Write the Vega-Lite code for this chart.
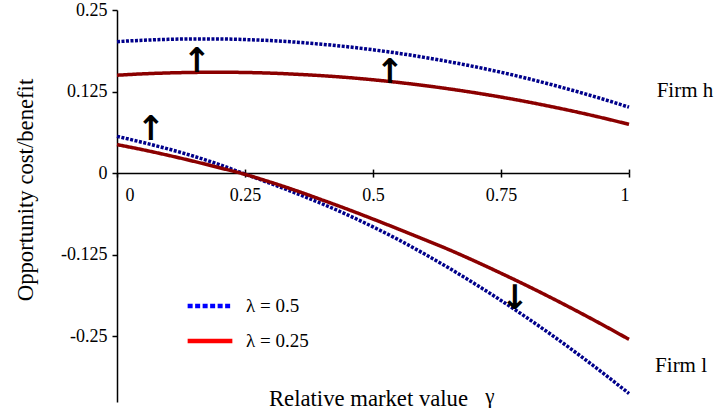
{
  "$schema": "https://vega.github.io/schema/vega-lite/v6.json",
  "width": 512,
  "height": 392,
  "autosize": "none",
  "padding": {"left": 117, "top": 10, "right": 85, "bottom": 11},
  "background": "white",
  "config": {
    "view": {"stroke": null},
    "font": "Liberation Serif",
    "style": {"guide-label": {"font": "Liberation Serif"}, "guide-title": {"font": "Liberation Serif"}},
    "axis": {"grid": false, "domainColor": "black", "tickColor": "black", "labelColor": "black", "titleColor": "black", "labelFont": "Liberation Serif", "titleFont": "Liberation Serif", "titleFontWeight": "normal", "domainWidth": 1.5, "tickWidth": 1.5},
    "legend": {"labelFont": "Liberation Serif"}
  },
  "datasets": {
    "curves": [
      {"x": 0, "y": 0.2015, "lam": "λ = 0.5", "firm": "h"},
      {"x": 0.05, "y": 0.2036, "lam": "λ = 0.5", "firm": "h"},
      {"x": 0.1, "y": 0.2050, "lam": "λ = 0.5", "firm": "h"},
      {"x": 0.15, "y": 0.2057, "lam": "λ = 0.5", "firm": "h"},
      {"x": 0.2, "y": 0.2056, "lam": "λ = 0.5", "firm": "h"},
      {"x": 0.25, "y": 0.2047, "lam": "λ = 0.5", "firm": "h"},
      {"x": 0.3, "y": 0.2031, "lam": "λ = 0.5", "firm": "h"},
      {"x": 0.35, "y": 0.2007, "lam": "λ = 0.5", "firm": "h"},
      {"x": 0.4, "y": 0.1975, "lam": "λ = 0.5", "firm": "h"},
      {"x": 0.45, "y": 0.1937, "lam": "λ = 0.5", "firm": "h"},
      {"x": 0.5, "y": 0.1890, "lam": "λ = 0.5", "firm": "h"},
      {"x": 0.55, "y": 0.1836, "lam": "λ = 0.5", "firm": "h"},
      {"x": 0.6, "y": 0.1774, "lam": "λ = 0.5", "firm": "h"},
      {"x": 0.65, "y": 0.1705, "lam": "λ = 0.5", "firm": "h"},
      {"x": 0.7, "y": 0.1629, "lam": "λ = 0.5", "firm": "h"},
      {"x": 0.75, "y": 0.1545, "lam": "λ = 0.5", "firm": "h"},
      {"x": 0.8, "y": 0.1453, "lam": "λ = 0.5", "firm": "h"},
      {"x": 0.85, "y": 0.1353, "lam": "λ = 0.5", "firm": "h"},
      {"x": 0.9, "y": 0.1246, "lam": "λ = 0.5", "firm": "h"},
      {"x": 0.95, "y": 0.1132, "lam": "λ = 0.5", "firm": "h"},
      {"x": 1, "y": 0.1010, "lam": "λ = 0.5", "firm": "h"},
      {"x": 0, "y": 0.1500, "lam": "λ = 0.25", "firm": "h"},
      {"x": 0.05, "y": 0.1521, "lam": "λ = 0.25", "firm": "h"},
      {"x": 0.1, "y": 0.1535, "lam": "λ = 0.25", "firm": "h"},
      {"x": 0.15, "y": 0.1543, "lam": "λ = 0.25", "firm": "h"},
      {"x": 0.2, "y": 0.1546, "lam": "λ = 0.25", "firm": "h"},
      {"x": 0.25, "y": 0.1542, "lam": "λ = 0.25", "firm": "h"},
      {"x": 0.3, "y": 0.1532, "lam": "λ = 0.25", "firm": "h"},
      {"x": 0.35, "y": 0.1515, "lam": "λ = 0.25", "firm": "h"},
      {"x": 0.4, "y": 0.1493, "lam": "λ = 0.25", "firm": "h"},
      {"x": 0.45, "y": 0.1465, "lam": "λ = 0.25", "firm": "h"},
      {"x": 0.5, "y": 0.1430, "lam": "λ = 0.25", "firm": "h"},
      {"x": 0.55, "y": 0.1389, "lam": "λ = 0.25", "firm": "h"},
      {"x": 0.6, "y": 0.1342, "lam": "λ = 0.25", "firm": "h"},
      {"x": 0.65, "y": 0.1289, "lam": "λ = 0.25", "firm": "h"},
      {"x": 0.7, "y": 0.1230, "lam": "λ = 0.25", "firm": "h"},
      {"x": 0.75, "y": 0.1165, "lam": "λ = 0.25", "firm": "h"},
      {"x": 0.8, "y": 0.1094, "lam": "λ = 0.25", "firm": "h"},
      {"x": 0.85, "y": 0.1016, "lam": "λ = 0.25", "firm": "h"},
      {"x": 0.9, "y": 0.0933, "lam": "λ = 0.25", "firm": "h"},
      {"x": 0.95, "y": 0.0843, "lam": "λ = 0.25", "firm": "h"},
      {"x": 1, "y": 0.0747, "lam": "λ = 0.25", "firm": "h"},
      {"x": 0, "y": 0.0563, "lam": "λ = 0.5", "firm": "l"},
      {"x": 0.05, "y": 0.0470, "lam": "λ = 0.5", "firm": "l"},
      {"x": 0.1, "y": 0.0370, "lam": "λ = 0.5", "firm": "l"},
      {"x": 0.15, "y": 0.0258, "lam": "λ = 0.5", "firm": "l"},
      {"x": 0.2, "y": 0.0130, "lam": "λ = 0.5", "firm": "l"},
      {"x": 0.25, "y": -0.0015, "lam": "λ = 0.5", "firm": "l"},
      {"x": 0.3, "y": -0.0160, "lam": "λ = 0.5", "firm": "l"},
      {"x": 0.35, "y": -0.0310, "lam": "λ = 0.5", "firm": "l"},
      {"x": 0.4, "y": -0.0470, "lam": "λ = 0.5", "firm": "l"},
      {"x": 0.45, "y": -0.0640, "lam": "λ = 0.5", "firm": "l"},
      {"x": 0.5, "y": -0.0825, "lam": "λ = 0.5", "firm": "l"},
      {"x": 0.55, "y": -0.1023, "lam": "λ = 0.5", "firm": "l"},
      {"x": 0.6, "y": -0.1238, "lam": "λ = 0.5", "firm": "l"},
      {"x": 0.65, "y": -0.1464, "lam": "λ = 0.5", "firm": "l"},
      {"x": 0.7, "y": -0.1703, "lam": "λ = 0.5", "firm": "l"},
      {"x": 0.75, "y": -0.1953, "lam": "λ = 0.5", "firm": "l"},
      {"x": 0.8, "y": -0.2215, "lam": "λ = 0.5", "firm": "l"},
      {"x": 0.85, "y": -0.2488, "lam": "λ = 0.5", "firm": "l"},
      {"x": 0.9, "y": -0.2774, "lam": "λ = 0.5", "firm": "l"},
      {"x": 0.95, "y": -0.3071, "lam": "λ = 0.5", "firm": "l"},
      {"x": 1, "y": -0.3380, "lam": "λ = 0.5", "firm": "l"},
      {"x": 0, "y": 0.0436, "lam": "λ = 0.25", "firm": "l"},
      {"x": 0.05, "y": 0.0358, "lam": "λ = 0.25", "firm": "l"},
      {"x": 0.1, "y": 0.0272, "lam": "λ = 0.25", "firm": "l"},
      {"x": 0.15, "y": 0.0180, "lam": "λ = 0.25", "firm": "l"},
      {"x": 0.2, "y": 0.0082, "lam": "λ = 0.25", "firm": "l"},
      {"x": 0.25, "y": -0.0020, "lam": "λ = 0.25", "firm": "l"},
      {"x": 0.3, "y": -0.0140, "lam": "λ = 0.25", "firm": "l"},
      {"x": 0.35, "y": -0.0270, "lam": "λ = 0.25", "firm": "l"},
      {"x": 0.4, "y": -0.0410, "lam": "λ = 0.25", "firm": "l"},
      {"x": 0.45, "y": -0.0554, "lam": "λ = 0.25", "firm": "l"},
      {"x": 0.5, "y": -0.0705, "lam": "λ = 0.25", "firm": "l"},
      {"x": 0.55, "y": -0.0860, "lam": "λ = 0.25", "firm": "l"},
      {"x": 0.6, "y": -0.1018, "lam": "λ = 0.25", "firm": "l"},
      {"x": 0.65, "y": -0.1180, "lam": "λ = 0.25", "firm": "l"},
      {"x": 0.7, "y": -0.1354, "lam": "λ = 0.25", "firm": "l"},
      {"x": 0.75, "y": -0.1536, "lam": "λ = 0.25", "firm": "l"},
      {"x": 0.8, "y": -0.1724, "lam": "λ = 0.25", "firm": "l"},
      {"x": 0.85, "y": -0.1920, "lam": "λ = 0.25", "firm": "l"},
      {"x": 0.9, "y": -0.2123, "lam": "λ = 0.25", "firm": "l"},
      {"x": 0.95, "y": -0.2333, "lam": "λ = 0.25", "firm": "l"},
      {"x": 1, "y": -0.2550, "lam": "λ = 0.25", "firm": "l"}
    ],
    "arrows": [
      {"x": 0.1562, "y": 0.1709, "t": "↑"},
      {"x": 0.5332, "y": 0.1540, "t": "↑"},
      {"x": 0.0664, "y": 0.0659, "t": "↑"},
      {"x": 0.7773, "y": -0.1926, "t": "↓"}
    ],
    "labels": [
      {"x": 1.054, "y": 0.1161, "t": "Firm h", "style": "normal"},
      {"x": 1.051, "y": -0.3057, "t": "Firm l", "style": "normal"},
      {"x": 0.719, "y": -0.3532, "t": "γ", "style": "italic"}
    ]
  },
  "resolve": {"axis": {"x": "independent"}, "scale": {"color": "independent", "strokeDash": "independent"}, "legend": {"color": "independent", "strokeDash": "independent"}},
  "layer": [
    {
      "data": {"name": "curves"},
      "mark": {"type": "line", "strokeWidth": 3.5, "interpolate": "monotone", "strokeCap": "butt"},
      "encoding": {
        "x": {"field": "x", "type": "quantitative", "scale": {"domain": [0, 1], "nice": false, "zero": false},
          "axis": {"orient": "bottom", "offset": -228.94, "values": [0, 0.25, 0.5, 0.75, 1], "tickSize": 4, "labelPadding": 9, "labelFont": "Liberation Serif", "labelFontSize": 18, "labelExpr": "datum.value + ''",
            "labelOffset": {"condition": {"test": "datum.value === 0", "value": 8}, "value": 0},
            "title": "Relative market value", "titleFont": "Liberation Serif", "titleFontSize": 22.7, "titleX": 251, "titleY": 232, "titleAlign": "center", "titleBaseline": "alphabetic"}},
        "y": {"field": "y", "type": "quantitative", "scale": {"domain": [-0.351, 0.25], "nice": false, "zero": false},
          "axis": {"values": [-0.25, -0.125, 0, 0.125, 0.25], "tickSize": 5, "labelPadding": 5, "labelFont": "Liberation Serif", "labelFontSize": 18, "labelExpr": "datum.value + ''",
            "title": "Opportunity cost/benefit", "titleFont": "Liberation Serif", "titleFontSize": 22.7, "titleX": -92, "titleY": 179.5, "titleAngle": -90, "titleAlign": "center", "titleBaseline": "middle"}},
        "color": {"field": "lam", "type": "nominal", "scale": {"domain": ["λ = 0.5", "λ = 0.25"], "range": ["#00008b", "#8b0000"]}, "legend": null},
        "strokeDash": {"field": "lam", "type": "nominal", "scale": {"domain": ["λ = 0.5", "λ = 0.25"], "range": [[3, 1.5], [1, 0]]}, "legend": null},
        "detail": {"field": "firm"}
      }
    },
    {
      "data": {"name": "curves"},
      "mark": {"type": "line", "strokeWidth": 4.5, "opacity": 0},
      "encoding": {
        "x": {"field": "x", "type": "quantitative", "scale": {"domain": [0, 1], "nice": false, "zero": false}, "axis": null},
        "y": {"field": "y", "type": "quantitative", "scale": {"domain": [-0.351, 0.25], "nice": false, "zero": false}},
        "color": {"field": "lam", "type": "nominal", "scale": {"domain": ["λ = 0.5", "λ = 0.25"], "range": ["#0000ff", "#ff0000"]},
          "legend": {"title": null, "orient": "none", "legendX": 68, "legendY": 271, "padding": 0, "labelFont": "Liberation Serif", "labelFontSize": 19, "labelColor": "black", "symbolType": "stroke", "symbolSize": 2000, "symbolStrokeWidth": 4.5, "symbolOpacity": 1, "labelOffset": 11, "rowPadding": -22}},
        "strokeDash": {"field": "lam", "type": "nominal", "scale": {"domain": ["λ = 0.5", "λ = 0.25"], "range": [[5, 2.5], [1, 0]]},
          "legend": {"title": null, "orient": "none", "legendX": 68, "legendY": 271, "padding": 0, "labelFont": "Liberation Serif", "labelFontSize": 19, "labelColor": "black", "symbolType": "stroke", "symbolSize": 2000, "symbolStrokeWidth": 4.5, "symbolOpacity": 1, "labelOffset": 11, "rowPadding": -22}},
        "detail": {"field": "firm"}
      }
    },
    {
      "data": {"name": "arrows"},
      "mark": {"type": "text", "font": "DejaVu Sans", "fontSize": 34, "fontWeight": "bold", "color": "black", "align": "center", "baseline": "middle"},
      "encoding": {
        "x": {"field": "x", "type": "quantitative", "scale": {"domain": [0, 1], "nice": false, "zero": false},
          "axis": {"orient": "top", "offset": -163.06, "values": [0.25, 0.5, 0.75, 1], "tickSize": 4, "labels": false, "domain": false, "title": null}},
        "y": {"field": "y", "type": "quantitative", "scale": {"domain": [-0.351, 0.25], "nice": false, "zero": false}},
        "text": {"field": "t"}
      }
    },
    {
      "data": {"name": "labels"},
      "mark": {"type": "text", "font": "Liberation Serif", "fontSize": 21, "color": "black", "align": "left", "baseline": "alphabetic"},
      "encoding": {
        "x": {"field": "x", "type": "quantitative", "scale": {"domain": [0, 1], "nice": false, "zero": false}, "axis": null},
        "y": {"field": "y", "type": "quantitative", "scale": {"domain": [-0.351, 0.25], "nice": false, "zero": false}},
        "text": {"field": "t"},
        "fontStyle": {"field": "style", "type": "nominal", "scale": null}
      }
    }
  ]
}
